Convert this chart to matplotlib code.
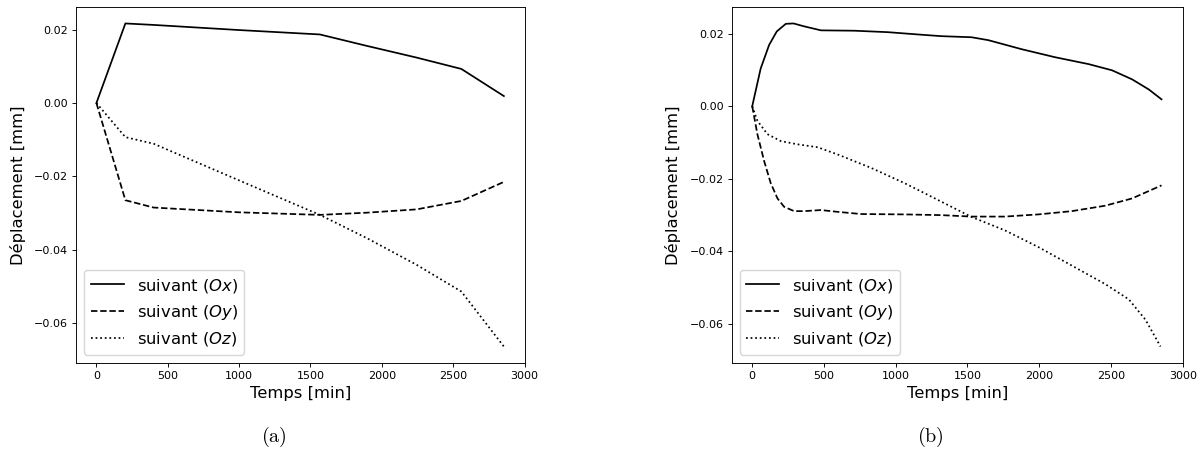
import matplotlib
matplotlib.use("Agg")
import matplotlib.pyplot as plt
import matplotlib as mpl

# (a) coarse time steps
t_a = [0, 203, 401, 1000, 1566, 1893, 2243, 2557, 2855]
ox_a = [0.0, 0.0217, 0.0213, 0.0199, 0.0187, 0.0156, 0.0124, 0.0093, 0.0019]
oy_a = [0.0, -0.0265, -0.0285, -0.0298, -0.0305, -0.0299, -0.0290, -0.0267, -0.0215]
oz_a = [0.0, -0.0093, -0.0111, -0.0211, -0.0305, -0.0368, -0.0441, -0.0514, -0.0664]

# (b) fine time steps
t_bx = [0, 59, 118, 171, 234, 288, 362, 479, 712, 945, 1178, 1318, 1528, 1645,
        1878, 2110, 2344, 2507, 2647, 2764, 2852]
ox_b = [0.0, 0.0104, 0.0169, 0.0206, 0.0227, 0.0228, 0.0220, 0.0209, 0.0208,
        0.0204, 0.0197, 0.0193, 0.0190, 0.0182, 0.0157, 0.0135, 0.0116, 0.0099,
        0.0074, 0.0046, 0.0019]
t_by = [0, 36, 83, 129, 176, 222, 292, 362, 479, 596, 759, 1062, 1318, 1528,
        1761, 1994, 2227, 2460, 2647, 2852]
oy_b = [0.0, -0.0077, -0.0151, -0.0212, -0.0254, -0.0277, -0.0289, -0.0289,
        -0.0286, -0.0291, -0.0297, -0.0298, -0.0300, -0.0304, -0.0304, -0.0298,
        -0.0289, -0.0274, -0.0254, -0.0218]
t_bz = [0, 36, 106, 199, 316, 456, 596, 829, 1062, 1178, 1318, 1528, 1761, 1994,
        2227, 2460, 2624, 2740, 2845]
oz_b = [0.0, -0.0040, -0.0077, -0.0096, -0.0105, -0.0113, -0.0133, -0.0170,
        -0.0212, -0.0235, -0.0263, -0.0305, -0.0342, -0.0388, -0.0439, -0.0490,
        -0.0532, -0.0588, -0.0662]

labels = [r'suivant ($Ox$)', r'suivant ($Oy$)', r'suivant ($Oz$)']
styles = ['-', '--', ':']

mpl.rc('lines', linewidth=1.25, color='k')
mpl.rc('axes', linewidth=0.66)

fig = plt.figure(figsize=(12.02, 4.5), dpi=100)
ax1 = fig.add_axes([76/1202, 87.3/450, 449/1202, 355.4/450])
ax2 = fig.add_axes([731.7/1202, 87.3/450, 451.5/1202, 355.4/450])

panels = [
    (ax1, [(t_a, ox_a), (t_a, oy_a), (t_a, oz_a)]),
    (ax2, [(t_bx, ox_b), (t_by, oy_b), (t_bz, oz_b)]),
]

for ax, series in panels:
    for (t, v), ls, lab in zip(series, styles, labels):
        ax.plot(t, v, ls, color='k', label=lab)
    ax.set_xticks([0, 500, 1000, 1500, 2000, 2500, 3000])
    ax.set_yticks([-0.06, -0.04, -0.02, 0.0, 0.02])
    ax.set_yticklabels(['%.2f' % y if y >= 0 else '\u2212%.2f' % -y
                        for y in [-0.06, -0.04, -0.02, 0.0, 0.02]])
    ax.tick_params(labelsize=8, length=2.9, width=0.66, pad=2.9)
    ax.set_xlabel('Temps [min]', fontsize=11.8)
    ax.set_ylabel('Déplacement [mm]', fontsize=11.8)
    ax.xaxis.set_label_coords(0.5, -0.065)
    ax.yaxis.set_label_coords(-0.112, 0.5)
    ax.legend(loc='lower left', fontsize=11.8)

ax1.set_xlim(-143, 3003)
ax2.set_xlim(-143, 3003)

fig.text(274/1202, 1 - 437/450, r'$\mathrm{(a)}$', math_fontfamily='cm',
         fontsize=14.5, ha='center', va='center')
fig.text(930/1202, 1 - 437/450, r'$\mathrm{(b)}$', math_fontfamily='cm',
         fontsize=14.5, ha='center', va='center')

fig.savefig('out.png', dpi=100)
